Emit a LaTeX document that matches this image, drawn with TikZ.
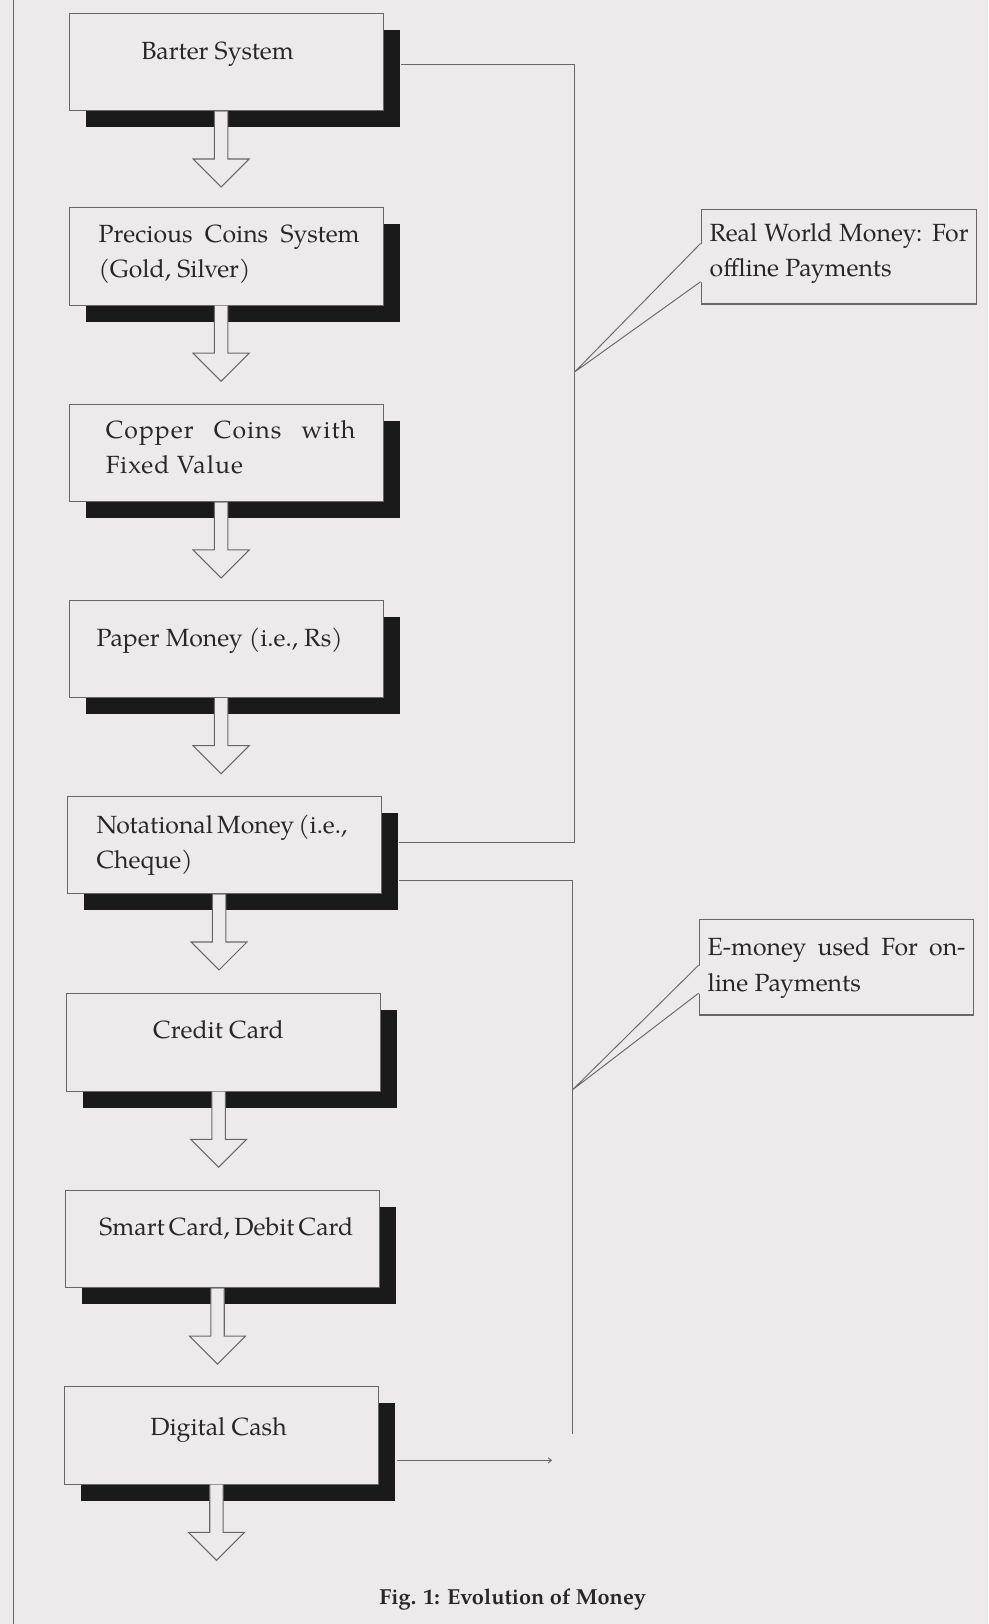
\documentclass[tikz,border=0pt]{standalone}
\usepackage{fontspec}
\setmainfont{TeX Gyre Pagella}
\usetikzlibrary{shadows,calc,arrows.meta}
\definecolor{paper}{HTML}{EEE9EB}
\definecolor{ink}{HTML}{2A2628}
\definecolor{rule}{HTML}{6A6668}
\definecolor{shade}{HTML}{1B1A1A}
% two stacked lines whose baseline is the first one
\newcommand\boxlines[2]{\vtop{\baselineskip=34pt\lineskiplimit=-100pt\hbox{#1}\hbox{#2}}}
% hollow block arrow hanging below a stage box
\newcommand\stepdown[1]{\filldraw[hollow] ([xshift=-11.5pt]#1.south) -- ++(0,46) -- ++(-20.5,0) -- ++(27,27) -- ++(27,-27) -- ++(-20.5,0) -- ++(0,-46);}
\begin{document}
\begin{tikzpicture}[x=1pt,y=-1pt,
  stage/.style={draw=rule, line width=1pt, fill=paper, minimum width=303pt, minimum height=94pt, inner sep=0pt,
    drop shadow={shadow xshift=16pt, shadow yshift=-16pt, fill=shade, opacity=1}},
  label/.style={font=\fontsize{24}{30}\selectfont, text=ink, inner sep=0pt},
  link/.style={draw=rule, line width=0.9pt},
  hollow/.style={draw=rule, line width=1pt, fill=paper, line join=miter},
  note/.style={draw=rule, line width=1.1pt, fill=paper, minimum width=266pt, minimum height=91pt, inner sep=0pt}]

\fill[paper] (0,0) rectangle (954,1568);
\useasboundingbox (0,0) rectangle (954,1568);

% margin rule
\coordinate (m1) at (13,0);
\coordinate (m2) at (13,1568);
\draw[link] (m1) -- (m2);

% stages
\node[stage] (b1) at (218.5,60) {};
\node[stage] (b2) at (218.5,247.5) {};
\node[stage] (b3) at (218.5,437.5) {};
\node[stage] (b4) at (218.5,626.5) {};
\node[stage] (b5) at (216.5,816) {};
\node[stage] (b6) at (216,1006.5) {};
\node[stage] (b7) at (215,1196.5) {};
\node[stage] (b8) at (214,1386) {};

\foreach \b in {b1,b2,b3,b4,b5,b6,b7,b8} {\stepdown{\b}}

% stage labels
\node[label, anchor=base] (t1) at (210,57) {Barter System};
\node[label, anchor=base west] (t2) at (95,234) {\boxlines{\makebox[252pt][s]{Precious Coins System}}{(Gold, Silver)}};
\node[label, anchor=base west] (t3) at (102,423) {\addfontfeature{LetterSpace=4}\boxlines{\makebox[241pt][s]{Copper Coins with}}{Fixed Value}};
\node[label, anchor=base west] (t4) at (93,624) {Paper Money (i.e., Rs)};
\node[label, anchor=base west] (t5) at (93,805) {\boxlines{\makebox[240pt][s]{Notational Money (i.e.,}}{Cheque)}};
\node[label, anchor=base] (t6) at (211,1003) {Credit Card};
\node[label, anchor=base] (t7) at (216,1193) {\makebox[240pt][s]{Smart Card, Debit Card}};
\node[label, anchor=base] (t8) at (211,1386) {Digital Cash};

% brackets
\coordinate (r1) at (555,62);
\coordinate (r2) at (555,813);
\coordinate (r3) at (553,850);
\coordinate (r4) at (553,1385);
\coordinate (r5) at (533,1410);
\draw[link] ($(b1.east |- r1)+(17,0)$) -- (r1) -- (r2) -- ($(b5.east |- r2)+(17,0)$);
\draw[link] ($(b5.east |- r3)+(17,0)$) -- (r3) -- (r4);
\draw[link, -{Straight Barb[length=3pt,width=5pt]}] ($(b8.east |- r5)+(17,0)$) -- (r5);

% callouts
\node[note] (c1) at (810,248) {};
\node[note, minimum width=265pt, minimum height=92pt] (c2) at (807.5,934) {};
\coordinate (p1) at (555,359);
\coordinate (p2) at (553,1052);
\fill[paper] ($(c1.west)+(1.5,-13)$) -- (p1) -- ($(c1.west)+(1.5,24)$) -- cycle;
\draw[link] ($(c1.west)+(0,-13)$) -- (p1) -- ($(c1.west)+(0,24)$);
\fill[paper] ($(c2.west)+(1.5,-2)$) -- (p2) -- ($(c2.west)+(1.5,25)$) -- cycle;
\draw[link] ($(c2.west)+(0,-2)$) -- (p2) -- ($(c2.west)+(0,25)$);

\node[label, anchor=base west] (ct1) at (685,233) {\boxlines{\makebox[250pt][s]{Real World Money: For}}{offline Payments}};
\node[label, anchor=base west] (ct2) at (683,923) {\boxlines{\makebox[249pt][s]{E-money used For on-}}{line Payments}};

% caption
\node[font=\fontsize{21}{25}\selectfont\bfseries, text=ink, anchor=base, inner sep=0pt] (cap) at (495,1549) {Fig. 1: Evolution of Money};
\end{tikzpicture}
\end{document}
